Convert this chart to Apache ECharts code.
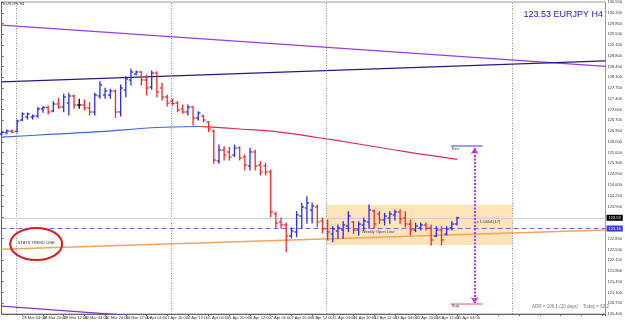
<!DOCTYPE html>
<html><head><meta charset="utf-8">
<script src="https://cdn.jsdelivr.net/npm/echarts@6/dist/echarts.min.js"></script>
<style>html,body{margin:0;padding:0;background:#fff}#c{width:625px;height:322px}</style>
</head><body><div id="c"></div>
<script>
// x-axis tick labels (every 4 H4 bars)
const xLabels = ["25 Mar 2016","28 Mar 04:00","28 Mar 20:00","29 Mar 12:00","30 Mar 04:00","30 Mar 20:00","31 Mar 12:00","1 Apr 04:00","1 Apr 20:00","4 Apr 12:00","5 Apr 04:00","5 Apr 20:00","6 Apr 12:00","7 Apr 04:00","7 Apr 20:00","8 Apr 12:00","11 Apr 04:00","11 Apr 20:00","12 Apr 12:00","13 Apr 04:00","13 Apr 20:00","14 Apr 12:00","15 Apr 04:00"];

// EURJPY H4 bars
const barOpen = [126.256,126.305,126.354,126.337,126.711,126.809,126.809,126.842,127.069,127.118,
127.004,127.232,127.134,127.264,127.492,127.199,127.199,127.102,126.972,127.492,
127.525,127.525,127.655,126.972,127.687,128.013,128.208,128.273,128.013,127.785,
128.240,127.752,127.460,127.330,127.264,127.069,126.972,127.134,126.776,126.842,
126.646,126.354,125.378,125.736,125.670,125.573,125.801,125.508,125.215,125.670,
125.248,125.215,125.020,123.654,123.393,123.296,122.938,123.068,123.588,123.849,
123.784,123.881,123.426,123.180,123.003,123.100,123.133,123.263,123.393,123.133,
123.296,123.393,123.751,123.654,123.459,123.524,123.621,123.719,123.524,123.328,
123.133,123.198,123.296,123.198,122.938,123.133,123.003,123.198,123.328];
const barHigh = [126.331,126.386,126.386,126.711,126.949,126.939,126.874,127.125,127.144,127.167,
127.307,127.417,127.547,127.580,127.525,127.385,127.362,127.274,127.580,127.957,
127.743,127.710,127.687,127.850,128.120,128.361,128.305,128.283,128.175,128.305,
128.283,127.905,127.525,127.395,127.307,127.199,127.199,127.144,126.981,126.874,
126.656,126.386,125.898,125.843,125.823,125.898,125.843,125.573,125.791,125.736,
125.355,125.303,125.085,123.719,123.524,123.361,123.198,123.728,124.002,124.216,
124.011,123.946,123.524,123.459,123.240,123.296,123.403,123.728,123.403,123.403,
123.514,123.946,123.784,123.728,123.676,123.728,123.784,123.784,123.728,123.459,
123.351,123.361,123.361,123.296,123.240,123.240,123.240,123.403,123.550];
const barLow = [126.224,126.256,126.298,126.321,126.689,126.744,126.744,126.799,126.962,126.907,
126.981,127.092,126.981,126.874,127.092,127.092,127.037,126.874,126.874,127.417,
127.417,127.417,126.799,126.842,127.469,127.850,128.175,127.850,127.525,127.710,
127.469,127.362,127.167,127.199,126.981,126.929,126.874,126.549,126.711,126.656,
126.331,125.303,125.303,125.410,125.410,125.518,125.410,125.085,125.085,125.085,
124.922,124.922,123.566,123.198,123.198,122.427,122.873,122.915,123.188,123.351,
123.361,123.240,123.036,122.808,122.752,122.863,122.863,123.078,123.026,122.970,
123.133,123.188,123.188,123.351,123.296,123.351,123.459,123.351,123.240,122.970,
123.078,123.133,123.133,122.645,122.915,122.645,122.970,123.133,123.296];
const barClose = [126.305,126.354,126.321,126.679,126.907,126.907,126.842,127.069,127.118,126.972,
127.232,127.134,127.460,127.492,127.199,127.199,127.102,126.972,127.525,127.850,
127.655,127.655,126.972,127.752,128.045,128.273,128.273,128.013,127.752,128.240,
127.622,127.460,127.264,127.248,127.037,126.972,127.134,126.776,126.939,126.711,
126.419,125.410,125.736,125.573,125.508,125.801,125.475,125.248,125.670,125.215,
125.020,125.020,123.719,123.361,123.296,122.938,123.100,123.621,123.881,124.011,
123.914,123.393,123.166,123.068,123.166,123.198,123.296,123.588,123.133,123.328,
123.426,123.784,123.328,123.459,123.588,123.654,123.719,123.491,123.328,123.133,
123.263,123.296,123.198,122.808,123.133,122.808,123.166,123.328,123.530];

// moving average (blue rising part, red falling part) [bar index, price]
const maBlue = [[0,126.152],[10,126.249],[19,126.331],[30,126.467],[38,126.500]];
const maRed = [[38,126.500],[40,126.490],[46,126.419],[53,126.331],[61,126.142],[69,125.931],[76,125.736],[80,125.628],[88,125.433]];

// trend lines [bar index, price]
const purpleTop = [[0,129.798],[116.7,128.455]];
const purpleLow = [[0,120.658],[116.7,119.21]];
const navyLine = [[0,127.951],[116.7,128.637]];
const orangeStats = [[0,122.507],[116.7,123.133]];

// levels
const bidPrice = 123.53;
const weeklyOpen = 123.18;
const weekSeparators = [2.9, 32.8, 62.7, 98.7];
const weekBox = {x0: 62.7, x1: 98.7, hi: 123.946, lo: 122.645};
const rangeArrow = {x: 91.4, top: 125.80, bottom: 120.758};
const resLine = {x0: 86.8, x1: 92.95, price: 125.866};
const supLine = {x0: 86.8, x1: 92.95, price: 120.748};

const ohlc = barOpen.map((o, i) => [i, o, barHigh[i], barLow[i], barClose[i]]);
const FONT = 'Liberation Sans';

const chart = echarts.init(document.getElementById('c'), null, {renderer: 'canvas'});

chart.setOption({
  animation: false,
  backgroundColor: '#fff',
  title: {text: '123.53 EURJPY H4', right: 22, top: 10, padding: 0,
    textStyle: {fontFamily: FONT, fontSize: 9, fontWeight: 'normal', color: '#1a1ad0'}},
  grid: {left: 1.6, right: 14, top: 2, bottom: 8, show: true, borderColor: '#9a9a9a', borderWidth: 1, backgroundColor: '#fff'},
  xAxis: {type: 'value', min: 0, max: 116.7, interval: 4,
    axisLine: {show: true, lineStyle: {color: '#666'}},
    axisTick: {show: true, length: 2, lineStyle: {color: '#666'}},
    splitLine: {show: false},
    axisLabel: {show: true, margin: 1.5, align: 'left', fontFamily: FONT, fontSize: 4, color: '#333',
      formatter: v => (Number.isInteger(v / 4) && xLabels[v / 4]) ? xLabels[v / 4] : ''}},
  yAxis: {type: 'value', position: 'right', min: 120.40, max: 130.55, interval: 0.35,
    axisLine: {show: true, lineStyle: {color: '#666'}},
    axisTick: {show: true, length: 2, lineStyle: {color: '#666'}},
    splitLine: {show: false},
    axisLabel: {show: true, margin: 2, fontFamily: FONT, fontSize: 4, color: '#333',
      formatter: v => v.toFixed(3)}},
  series: [
    {type: 'line', name: 'box', z: 1, data: [], silent: true,
      markArea: {silent: true, itemStyle: {color: '#fde3b8'},
        data: [[{coord: [weekBox.x0, weekBox.hi]}, {coord: [weekBox.x1, weekBox.lo]}]]},
      markLine: {silent: true, symbol: 'none', label: {show: false},
        lineStyle: {color: '#8a8a8a', type: [1, 1.5], width: 1},
        data: weekSeparators.map(x => ({xAxis: x}))}},
    {type: 'line', name: 'levels', z: 2, data: [], silent: true,
      markLine: {silent: true, symbol: 'none',
        data: [
          {yAxis: bidPrice, lineStyle: {color: '#cfcfcf', type: 'solid', width: 1},
            label: {show: true, position: 'end', distance: 1, formatter: '123.53', fontFamily: FONT, fontSize: 4, color: '#fff', backgroundColor: '#000', padding: [1, 2]}},
          {yAxis: weeklyOpen, lineStyle: {color: '#6d6dd8', type: [5, 3], width: 1},
            label: {show: true, position: 'end', distance: 1, formatter: '123.18', fontFamily: FONT, fontSize: 4, color: '#fff', backgroundColor: '#3a3ad0', padding: [1, 2]}},
          [{coord: [resLine.x0, resLine.price], lineStyle: {color: '#7b7bef', type: 'solid', width: 1.5},
             label: {show: true, position: 'insideStartBottom', distance: 1, formatter: 'Res', fontFamily: FONT, fontSize: 4, color: '#333'}},
           {coord: [resLine.x1, resLine.price]}],
          [{coord: [supLine.x0, supLine.price], lineStyle: {color: '#f08a8a', type: 'solid', width: 1.5},
             label: {show: true, position: 'insideStartBottom', distance: 1, formatter: 'Sup', fontFamily: FONT, fontSize: 4, color: '#333'}},
           {coord: [supLine.x1, supLine.price]}]
        ]}},
    {type: 'line', name: 'purpleTop', z: 3, data: purpleTop, symbol: 'none', lineStyle: {color: '#9a3ce6', width: 1.3}},
    {type: 'line', name: 'purpleLow', z: 3, data: purpleLow, symbol: 'none', clip: true, lineStyle: {color: '#8a30d8', width: 1.3}},
    {type: 'line', name: 'navy', z: 3, data: navyLine, symbol: 'none', lineStyle: {color: '#1c1c86', width: 1.3}},
    {type: 'line', name: 'stats', z: 3, data: orangeStats, symbol: 'none', lineStyle: {color: '#f4a35c', width: 1.3}},
    {type: 'line', name: 'maBlue', z: 3, data: maBlue, symbol: 'none', smooth: 0.3, lineStyle: {color: '#3b66e0', width: 1.2}},
    {type: 'line', name: 'maRed', z: 3, data: maRed, symbol: 'none', smooth: 0.3, lineStyle: {color: '#e02a4a', width: 1.2}},
    {type: 'custom', name: 'bars', z: 5, data: ohlc,
      encode: {x: 0, y: [1, 2, 3, 4]},
      renderItem: (params, api) => {
        const x = api.value(0), o = api.value(1), h = api.value(2), l = api.value(3), c = api.value(4);
        const pH = api.coord([x, h]), pL = api.coord([x, l]), pO = api.coord([x, o]), pC = api.coord([x, c]);
        const col = c > o ? '#2a2af0' : (c < o ? '#ee2a2a' : '#000');
        const st = {stroke: col, lineWidth: 1.3};
        return {type: 'group', children: [
          {type: 'line', shape: {x1: pH[0], y1: pH[1] - 0.5, x2: pL[0], y2: pL[1] + 0.5}, style: st},
          {type: 'line', shape: {x1: pO[0] - 2.2, y1: pO[1], x2: pO[0], y2: pO[1]}, style: st},
          {type: 'line', shape: {x1: pC[0], y1: pC[1], x2: pC[0] + 2.2, y2: pC[1]}, style: st}
        ]};
      },
      markLine: {silent: true, symbol: ['arrow', 'arrow'], symbolSize: 6,
        lineStyle: {color: '#c030f0', type: [2, 1.5], width: 2},
        label: {show: false},
        data: [[{coord: [rangeArrow.x, rangeArrow.top]}, {coord: [rangeArrow.x, rangeArrow.bottom]}]]},
      markPoint: {silent: true, symbol: 'circle', symbolSize: 0,
        label: {show: true, position: 'right', distance: 0, fontFamily: FONT, fontSize: 4, color: '#333'},
        data: [
          {coord: [3.14, 122.70], label: {formatter: 'STATS TREND LINE'}},
          {coord: [69.6, 123.078], label: {formatter: 'Weekly Open Line', color: '#3a3a6a'}},
          {coord: [91.75, 123.403], label: {formatter: '= 1.0454 (17)'}}
        ]}}
  ]
});

// red ellipse annotation around the stats trend line label, anchored in data space
const ellipseCenter = [6.68, 122.678];
const ec = chart.convertToPixel({gridIndex: 0}, ellipseCenter);
chart.setOption({graphic: [
  {type: 'text', left: 3, top: 2, style: {text: 'EURJPY,H4', font: '4px ' + FONT, fill: '#333'}},
  {type: 'text', left: 532, top: 304, style: {text: 'ADR = 106.1 (20 days)', font: '4.5px ' + FONT, fill: '#777'}},
  {type: 'text', left: 583, top: 304, style: {text: 'Today = 62.2', font: '4.5px ' + FONT, fill: '#777'}},
  {type: 'ellipse', z: 100, shape: {cx: ec[0], cy: ec[1], rx: 26, ry: 16}, style: {fill: 'none', stroke: '#e01818', lineWidth: 2}}
]});
</script>
</body></html>
